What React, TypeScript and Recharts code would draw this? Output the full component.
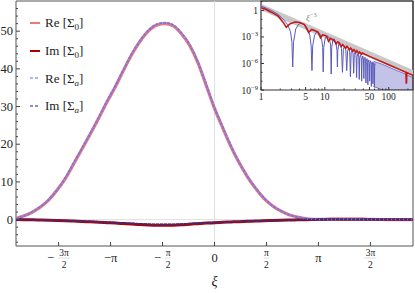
import React from 'react';
import {
  ComposedChart, Line, Area, XAxis, YAxis, ReferenceLine, ReferenceArea, ReferenceDot, Legend,
} from 'recharts';

const SERIF = '"Liberation Serif", "DejaVu Serif", serif';

// ---------- main panel data ----------
const xs = [
  -6, -5.75, -5.5, -5.25, -5, -4.75, -4.5, -4.25, -4, -3.75, -3.5, -3.25, -3, -2.75, -2.5, -2.25,
  -2, -1.75, -1.5, -1.25, -1, -0.75, -0.5, -0.25, 0, 0.25, 0.5, 0.75, 1, 1.25, 1.5, 1.75,
  2, 2.25, 2.5, 2.75, 3, 3.25, 3.5, 3.75, 4, 4.25, 4.5, 4.75, 5, 5.25, 5.5, 5.75, 6,
];
const re0 = [
  0.3, 1.0, 2.0, 3.4, 5.3, 7.9, 11.0, 14.9, 18.8, 22.8, 26.9, 31.2, 35.2, 39.6, 43.8, 47.3,
  50.0, 51.6, 52.0, 51.4, 49.3, 46.2, 41.6, 35.6, 29.5, 24.3, 19.3, 15.0, 11.3, 8.2, 5.6, 3.7,
  2.3, 1.3, 0.7, 0.3, 0.1, 0.05, 0.05, 0.08, 0.1, 0.1, 0.08, 0.05, 0.03, 0.02, 0.02, 0.02, 0.02,
];
const reA = [
  0.3, 1.0, 2.1, 3.5, 5.4, 8.0, 11.2, 15.1, 19.0, 23.0, 27.1, 31.4, 35.4, 39.8, 44.0, 47.5,
  50.2, 51.8, 52.2, 51.6, 49.5, 46.4, 41.8, 35.8, 29.7, 24.5, 19.5, 15.1, 11.4, 8.3, 5.7, 3.7,
  2.3, 1.3, 0.7, 0.3, 0.1, 0.05, 0.05, 0.06, 0.08, 0.08, 0.06, 0.04, 0.03, 0.02, 0.02, 0.02, 0.02,
];
const im0 = [
  0, -0.02, -0.05, -0.1, -0.15, -0.22, -0.3, -0.4, -0.5, -0.58, -0.68, -0.8, -0.92, -1.05, -1.18, -1.3,
  -1.42, -1.5, -1.52, -1.48, -1.38, -1.22, -1.07, -0.93, -0.8, -0.72, -0.63, -0.54, -0.46, -0.38, -0.3, -0.24,
  -0.18, -0.12, -0.06, -0.02, 0.01, 0.04, 0.07, 0.09, 0.1, 0.09, 0.07, 0.05, 0.03, 0.02, 0.01, 0, 0,
];
const imA = [
  0, -0.02, -0.04, -0.08, -0.13, -0.19, -0.26, -0.35, -0.44, -0.52, -0.6, -0.7, -0.81, -0.92, -1.03, -1.13,
  -1.22, -1.28, -1.3, -1.27, -1.2, -1.08, -0.96, -0.85, -0.75, -0.68, -0.6, -0.52, -0.44, -0.37, -0.29, -0.23,
  -0.17, -0.11, -0.06, -0.02, 0.01, 0.03, 0.05, 0.06, 0.06, 0.06, 0.05, 0.04, 0.02, 0.01, 0.01, 0, 0,
];

const xTickValues = [-1.5 * Math.PI, -Math.PI, -0.5 * Math.PI, 0, 0.5 * Math.PI, Math.PI, 1.5 * Math.PI];
const xTickLabels = [
  { sign: '−', num: '3π', den: '2' },
  { sign: '−', num: 'π', den: '' },
  { sign: '−', num: 'π', den: '2' },
  { sign: '', num: '0', den: '' },
  { sign: '', num: 'π', den: '2' },
  { sign: '', num: 'π', den: '' },
  { sign: '', num: '3π', den: '2' },
];
const yTicks = [-6, -4, -2, 0, 2, 4, 6, 8, 10, 12, 14, 16, 18, 20, 22, 24, 26, 28, 30, 32, 34, 36, 38, 40, 42, 44, 46, 48, 50, 52, 54, 56];
const yLabelled = [0, 10, 20, 30, 40, 50];

// ---------- inset data: [xi, log10(value)] ----------
const insetGray = [[1, 0.4], [240, -7.1]];
const insetRed = [
  [1, 0.3], [1.2, 0.1], [1.45, -0.2], [1.84, -0.62], [2.2, -1.3], [2.49, -1.9], [2.8, -1.55], [3.4, -1.3],
  [4.0, -1.35], [4.8, -1.6], [5.57, -2.5], [6.2, -2.15], [7.05, -2.3], [7.8, -2.45], [8.55, -3.1], [9.2, -2.75],
  [9.9, -2.8], [10.7, -2.95], [11.4, -3.5], [12.2, -3.15], [12.9, -3.25], [14, -3.4], [15, -3.8], [15.8, -3.55],
  [16.5, -3.6], [18, -4.1], [19, -3.85], [21.2, -4.3], [22.2, -4.05], [24.4, -4.45], [25.4, -4.25], [27.6, -4.6],
  [28.6, -4.42], [30.8, -4.75], [31.8, -4.56], [34, -4.85], [35, -4.7], [37.5, -4.95], [38.5, -4.82], [50, -5.2],
  [100, -6.15], [150, -6.7], [186, -6.99], [188, -8.2], [190, -8.2], [192, -7.03], [240, -7.35],
];
const insetBlue = [
  [1, 0.5], [1.45, 0.0], [1.84, -0.45], [2.2, -0.95], [2.6, -1.6], [2.9, -2.4], [3.05, -3.6], [3.14, -6.4],
  [3.23, -3.6], [3.5, -2.1], [3.9, -1.55], [4.26, -1.45], [4.8, -1.6], [5.3, -2.0], [5.8, -2.8], [6.1, -4.0],
  [6.28, -6.8], [6.45, -4.0], [6.9, -2.8], [7.6, -2.35], [8.3, -2.6], [8.9, -3.2], [9.25, -4.2], [9.42, -6.95],
  [9.6, -4.2], [10.1, -3.2], [10.9, -2.85], [11.7, -3.1], [12.3, -3.9], [12.57, -7.2], [12.8, -4.2], [13.3, -3.4],
  [13.9, -3.2], [14.8, -3.6], [15.5, -4.5], [15.71, -6.4], [15.95, -4.5], [16.6, -3.7], [17.2, -3.65], [18.2, -4.3],
  [18.85, -7.0], [19.5, -4.4], [20.4, -4.0], [21.3, -4.5], [21.99, -6.8], [22.7, -4.6], [23.6, -4.25], [24.5, -4.7],
  [25.13, -7.5], [25.8, -4.8], [26.7, -4.45], [27.6, -4.9], [28.27, -7.1], [28.9, -5.0], [29.8, -4.65], [30.8, -5.1],
  [31.42, -7.6], [32, -5.2], [33, -4.85], [34, -5.3], [34.56, -7.8], [35.1, -5.3], [36.2, -5.0], [37.2, -5.5],
  [37.7, -8.0], [38.3, -5.5], [39.3, -5.15], [40.3, -5.6], [40.84, -7.7], [41.4, -5.6], [42.4, -5.3], [43.5, -5.7],
  [43.98, -8.2], [44.5, -5.8], [45.6, -5.45], [46.6, -5.9], [47.12, -8.4], [47.6, -5.9], [48.7, -5.6], [49.8, -6.0],
  [50.27, -8.0], [50.8, -6.0], [51.8, -5.7], [53.0, -6.1], [53.41, -8.6], [54, -6.1], [55, -5.8], [56.1, -6.2],
  [56.55, -8.3], [57.1, -6.2], [58.1, -5.9], [59.3, -6.3], [59.69, -8.7], [60.2, -6.3], [61.3, -6.0],
];
// dense oscillation region: [xi, lower log10, upper log10]
const insetBlueBand = [[58, -8.6, -5.75], [80, -9, -6.1], [120, -9, -6.65], [170, -9, -7.1], [240, -9, -7.6]];
const insetXTicks = [1, 2, 3, 4, 5, 6, 7, 8, 9, 10, 20, 30, 40, 50, 60, 70, 80, 90, 100, 200];
const insetXLabelled = [1, 5, 10, 50, 100];
const insetYTicks = [10, 1, 1e-1, 1e-2, 1e-3, 1e-4, 1e-5, 1e-6, 1e-7, 1e-8, 1e-9];
const insetNote = { x: 5.05, y: 0.065, base: 'ξ', sup: '−3' };

// ---------- colours ----------
const C_RE0 = '#f07878';
const C_IM0 = '#b00000';
const C_REA = '#7878e6';
const C_IMA = '#30308c';

const legendItems = [
  { part: 'Re', sub: '0', italic: false, color: C_RE0, dash: '', w: 2 },
  { part: 'Im', sub: '0', italic: false, color: C_IM0, dash: '', w: 2 },
  { part: 'Re', sub: 'a', italic: true, color: '#9c9cf0', dash: '3 2', w: 1.5 },
  { part: 'Im', sub: 'a', italic: true, color: '#6a6ac0', dash: '3 2', w: 1.5 },
];

const mainData = xs.map((x, i) => ({ x, re0: re0[i], im0: im0[i], reA: reA[i], imA: imA[i] }));
const toPts = (arr: number[][]) => arr.map(([x, e]) => ({ x, y: Math.pow(10, e) }));
const grayData = toPts(insetGray);
const redData = toPts(insetRed);
const blueData = toPts(insetBlue);
const bandData = insetBlueBand.map(([x, lo, hi]) => ({ x, range: [Math.pow(10, lo), Math.pow(10, hi)] }));

// ---------- tick renderers ----------
const MainXTick = (props: any) => {
  const { x, y, payload } = props;
  const idx = xTickValues.findIndex((v) => Math.abs(v - payload.value) < 1e-6);
  const lab = xTickLabels[idx];
  if (!lab) return null;
  let content;
  if (!lab.den) {
    content = (
      <text x={x} y={y + 16} textAnchor="middle" fontSize={12.5} fontFamily={SERIF} fill="#222">
        {lab.sign + lab.num}
      </text>
    );
  } else {
    const numW = lab.num.length > 1 ? 12 : 6;
    const minusW = lab.sign ? 11 : 0;
    const left = x - (numW + minusW) / 2;
    const fc = left + minusW + numW / 2;
    content = (
      <g fontFamily={SERIF} fill="#222">
        {lab.sign && (
          <text x={left} y={y + 16} fontSize={12.5}>{lab.sign}</text>
        )}
        <text x={fc} y={y + 9.5} textAnchor="middle" fontSize={9.5}>{lab.num}</text>
        <line x1={fc - numW / 2} x2={fc + numW / 2} y1={y + 12} y2={y + 12} stroke="#bbb" strokeWidth={0.5} />
        <text x={fc} y={y + 21.5} textAnchor="middle" fontSize={9.5}>{lab.den}</text>
      </g>
    );
  }
  return (
    <g>
      <line x1={x} x2={x} y1={y} y2={y - 4} stroke="#444" strokeWidth={1} />
      {content}
    </g>
  );
};

const MainYTick = (props: any) => {
  const { x, y, payload } = props;
  const major = yLabelled.includes(payload.value);
  return (
    <g>
      <line x1={x} x2={x + (major ? 4 : 2)} y1={y} y2={y} stroke="#444" strokeWidth={1} />
      {major && (
        <text x={x - 3} y={y + 4} textAnchor="end" fontSize={12.5} fontFamily={SERIF} fill="#222">
          {payload.value}
        </text>
      )}
    </g>
  );
};

const InsetXTick = (props: any) => {
  const { x, y, payload } = props;
  const lab = insetXLabelled.includes(payload.value);
  return (
    <g>
      <line x1={x} x2={x} y1={y} y2={y - (lab ? 3 : 1.5)} stroke="#333" strokeWidth={1} />
      {lab && (
        <text x={x} y={y + 10} textAnchor="middle" fontSize={9.5} fontFamily={SERIF} fill="#222">
          {payload.value}
        </text>
      )}
    </g>
  );
};

const InsetYTick = (props: any) => {
  const { x, y, payload } = props;
  const e = Math.round(Math.log10(payload.value));
  const lab = e <= 0 && e % 3 === 0;
  return (
    <g>
      <line x1={x} x2={x + (lab ? 3 : 1.5)} y1={y} y2={y} stroke="#333" strokeWidth={1} />
      {lab && (
        <text x={x - 3} y={y + 3.5} textAnchor="end" fontSize={9.5} fontFamily={SERIF} fill="#222">
          {e === 0 ? '1' : '10'}
          {e !== 0 && <tspan dy={-4} fontSize={6.5}>{'−' + String(-e)}</tspan>}
        </text>
      )}
    </g>
  );
};

const LegendContent = () => (
  <div style={{ fontFamily: SERIF, fontSize: 13, color: '#222' }}>
    {legendItems.map((it, i) => (
      <div key={i} style={{ height: 27.7, display: 'flex', alignItems: 'center', whiteSpace: 'nowrap' }}>
        <svg width={10} height={6} style={{ display: 'block' }}>
          <line x1={0} x2={10} y1={3} y2={3} stroke={it.color} strokeWidth={it.w} strokeDasharray={it.dash || undefined} />
        </svg>
        <span style={{ marginLeft: 5, lineHeight: 1 }}>
          {it.part} [Σ
          <span style={{ fontSize: 9, position: 'relative', top: 3, fontStyle: it.italic ? 'italic' : 'normal' }}>{it.sub}</span>
          ]
        </span>
      </div>
    ))}
  </div>
);

export default function App() {
  return (
    <div style={{ position: 'absolute', left: 0, top: 0, width: 415, height: 293, background: '#fff' }}>
      <ComposedChart width={415} height={293} data={mainData} margin={{ top: 1, right: 2, bottom: 0, left: 0 }}>
        <XAxis
          dataKey="x" type="number" domain={[-6, 6]} allowDataOverflow ticks={xTickValues} interval={0}
          tickSize={0} tickMargin={0} axisLine={false} tickLine={false} tick={(p: any) => <MainXTick {...p} />}
          height={47}
          label={{ value: 'ξ', position: 'insideBottom', offset: 7, style: { fontFamily: SERIF, fontSize: 14, fontStyle: 'italic', fill: '#222' } }}
        />
        <YAxis
          type="number" domain={[-7, 58]} allowDataOverflow ticks={yTicks} interval={0}
          tickSize={0} tickMargin={0} axisLine={false} tickLine={false} tick={(p: any) => <MainYTick {...p} />}
          width={16}
        />
        <ReferenceLine y={0} stroke="#e0e0e0" strokeWidth={1} />
        <ReferenceLine x={0} stroke="#e0e0e0" strokeWidth={1} />
        <Line type="monotone" dataKey="re0" stroke={C_RE0} strokeWidth={3.2} dot={false} isAnimationActive={false} />
        <Line type="monotone" dataKey="im0" stroke={C_IM0} strokeWidth={3} dot={false} isAnimationActive={false} />
        <Line type="monotone" dataKey="reA" stroke={C_REA} strokeWidth={2} strokeDasharray="3 1" dot={false} isAnimationActive={false} />
        <Line type="monotone" dataKey="imA" stroke={C_IMA} strokeWidth={1.8} strokeDasharray="3 1" dot={false} isAnimationActive={false} />
        <ReferenceArea x1={-6} x2={6} y1={-7} y2={58} fill="none" fillOpacity={0} stroke="#555" strokeWidth={1} ifOverflow="visible" />
        <Legend
          layout="vertical" align="center" verticalAlign="middle"
          content={() => <LegendContent />}
          wrapperStyle={{ left: 30, top: 9, width: 'auto', height: 'auto' }}
        />
      </ComposedChart>

      <div style={{ position: 'absolute', left: 240, top: 0 }}>
        <ComposedChart width={175} height={110} margin={{ top: 1, right: 2, bottom: 0, left: 0 }}>
          <XAxis
            dataKey="x" type="number" scale="log" domain={[1, 240]} allowDataOverflow ticks={insetXTicks} interval={0}
            tickSize={0} tickMargin={0} axisLine={false} tickLine={false} tick={(p: any) => <InsetXTick {...p} />}
            height={20}
          />
          <YAxis
            type="number" scale="log" domain={[1e-9, 11.7]} allowDataOverflow ticks={insetYTicks} interval={0}
            tickSize={0} tickMargin={0} axisLine={false} tickLine={false} tick={(p: any) => <InsetYTick {...p} />}
            width={21}
          />
          <Line data={grayData} type="linear" dataKey="y" stroke="#c8c8c8" strokeWidth={6} dot={false} isAnimationActive={false} />
          <Area data={bandData} type="linear" dataKey="range" stroke="#5a5ab8" strokeWidth={0.8} fill="#7a7acc" fillOpacity={0.45} isAnimationActive={false} />
          <Line data={blueData} type="linear" dataKey="y" stroke="#5a5abc" strokeWidth={1} dot={false} isAnimationActive={false} />
          <Line data={redData} type="linear" dataKey="y" stroke="#c81414" strokeWidth={1.5} dot={false} isAnimationActive={false} />
          <ReferenceArea x1={1} x2={240} y1={1e-9} y2={11.7} fill="none" fillOpacity={0} stroke="#333" strokeWidth={1.2} ifOverflow="visible" />
          <ReferenceDot
            x={insetNote.x} y={insetNote.y} r={0} fill="none" stroke="none"
            label={(p: any) => {
              const vb = p.viewBox || {};
              return (
                <text x={vb.x} y={vb.y} fontFamily={SERIF} fontSize={9} fill="#888" fontStyle="italic">
                  {insetNote.base}
                  <tspan dy={-4} fontSize={6.5} fontStyle="normal">{insetNote.sup}</tspan>
                </text>
              );
            }}
          />
        </ComposedChart>
      </div>
    </div>
  );
}
